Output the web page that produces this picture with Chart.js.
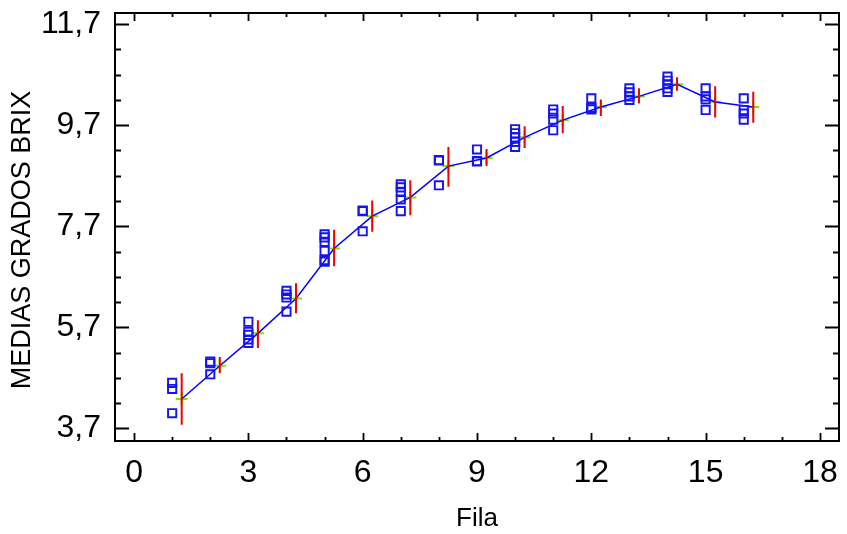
<!DOCTYPE html>
<html>
<head>
<meta charset="utf-8">
<script src="https://cdn.jsdelivr.net/npm/chart.js@4/dist/chart.umd.min.js"></script>
<style>
html,body{margin:0;padding:0;background:#fff;}
#wrap{width:847px;height:534px;}
</style>
</head>
<body>
<div id="wrap"><canvas id="c" width="847" height="534"></canvas></div>
<script>
// ---- data ----
const filas = [1, 2, 3, 4, 5, 6, 7, 8, 9, 10, 11, 12, 13, 14, 15, 16];
const observaciones = [
  [4.60, 4.48, 4.00],
  [5.02, 4.99, 4.77],
  [5.81, 5.61, 5.55, 5.46, 5.39],
  [6.42, 6.35, 6.29, 6.01],
  [7.54, 7.48, 7.39, 7.21, 7.03, 7.00],
  [8.01, 8.00, 7.60],
  [8.53, 8.47, 8.38, 8.23, 8.00],
  [9.01, 9.00, 8.51],
  [9.22, 8.99, 8.98],
  [9.62, 9.54, 9.46, 9.37, 9.27],
  [10.01, 9.93, 9.81, 9.60],
  [10.23, 10.05, 10.04, 10.01],
  [10.43, 10.35, 10.27, 10.20],
  [10.66, 10.58, 10.51, 10.43, 10.36],
  [10.43, 10.27, 10.21, 10.00],
  [10.23, 10.00, 9.93, 9.81]
];
const medias = [4.28, 4.94, 5.58, 6.27, 7.26, 7.90, 8.27, 8.89, 9.05, 9.46, 9.80, 10.06, 10.27, 10.51, 10.16, 10.06];
const limiteInferior = [3.77, 4.79, 5.29, 5.98, 6.91, 7.59, 7.92, 8.48, 8.89, 9.25, 9.54, 9.88, 10.13, 10.38, 9.85, 9.75];
const limiteSuperior = [4.79, 5.11, 5.84, 6.57, 7.63, 8.21, 8.61, 9.27, 9.23, 9.68, 10.08, 10.21, 10.43, 10.65, 10.47, 10.36];
const desplazamientoMedia = 0.25;
const xTicks = [0, 3, 6, 9, 12, 15, 18];
const xMinorTicks = [1, 2, 4, 5, 7, 8, 10, 11, 13, 14, 16, 17];
const yTicks = [3.7, 5.7, 7.7, 9.7, 11.7];
const yMinorTicks = [4.2, 4.7, 5.2, 6.2, 6.7, 7.2, 8.2, 8.7, 9.2, 10.2, 10.7, 11.2];
const tituloX = 'Fila';
const tituloY = 'MEDIAS GRADOS BRIX';

// ---- build datasets ----
const puntos = [];
filas.forEach((f, i) => observaciones[i].forEach(v => puntos.push({x: f, y: v})));
const mediaPts = filas.map((f, i) => ({x: f + desplazamientoMedia, y: medias[i]}));
const barras = [];
filas.forEach((f, i) => {
  barras.push({x: f + desplazamientoMedia, y: limiteInferior[i]});
  barras.push({x: f + desplazamientoMedia, y: limiteSuperior[i]});
  barras.push({x: f + desplazamientoMedia, y: null});
});

const FONT = "'Liberation Sans', Arial, sans-serif";

const framePlugin = {
  id: 'frame',
  afterDraw(chart) {
    const ctx = chart.ctx;
    const a = chart.chartArea;
    const xs = chart.scales.x, ys = chart.scales.y;
    ctx.save();
    ctx.strokeStyle = '#000';
    ctx.lineWidth = 2;
    ctx.strokeRect(a.left, a.top, a.right - a.left, a.bottom - a.top);
    ctx.beginPath();
    const xt = (v, len) => {
      const p = Math.round(xs.getPixelForValue(v)) + 0.5;
      ctx.moveTo(p, a.bottom); ctx.lineTo(p, a.bottom - len);
      ctx.moveTo(p, a.top); ctx.lineTo(p, a.top + len);
    };
    const yt = (v, len) => {
      const p = Math.round(ys.getPixelForValue(v)) + 0.5;
      ctx.moveTo(a.left, p); ctx.lineTo(a.left + len, p);
      ctx.moveTo(a.right, p); ctx.lineTo(a.right - len, p);
    };
    xTicks.forEach(v => xt(v, 8));
    xMinorTicks.forEach(v => xt(v, 4));
    yTicks.forEach(v => yt(v, 14));
    yMinorTicks.forEach(v => yt(v, 6));
    ctx.lineWidth = 1.8;
    ctx.stroke();
    // y axis title
    ctx.fillStyle = '#000';
    ctx.font = '27px ' + FONT;
    ctx.textAlign = 'center';
    ctx.textBaseline = 'middle';
    ctx.translate(23, 240);
    ctx.rotate(-Math.PI / 2);
    ctx.fillText(tituloY, 0, 0);
    ctx.restore();
  }
};

new Chart(document.getElementById('c'), {
  type: 'scatter',
  data: {
    datasets: [
      {
        label: 'obs',
        data: puntos,
        pointStyle: 'rect',
        pointRadius: 5.8,
        pointBorderWidth: 1.9,
        borderColor: 'rgb(20,20,240)',
        backgroundColor: 'rgba(0,0,0,0)',
        showLine: false,
        order: 0
      },
      {
        label: 'int',
        data: barras,
        showLine: true,
        spanGaps: false,
        pointRadius: 0,
        borderColor: 'rgb(240,0,0)',
        borderWidth: 2,
        order: 1
      },
      {
        label: 'linea',
        data: mediaPts,
        showLine: true,
        pointRadius: 0,
        borderColor: 'rgb(0,0,255)',
        borderWidth: 1.5,
        order: 2
      },
      {
        label: 'media',
        data: mediaPts,
        showLine: false,
        pointStyle: 'cross',
        pointRadius: 6,
        pointBorderWidth: 2,
        borderColor: 'rgb(120,230,0)',
        backgroundColor: 'rgb(120,230,0)',
        order: 3
      }
    ]
  },
  options: {
    responsive: false,
    animation: false,
    devicePixelRatio: 1,
    layout: {padding: {top: 13, right: 4, bottom: 0, left: 0}},
    plugins: {legend: {display: false}, tooltip: {enabled: false}},
    scales: {
      x: {
        type: 'linear',
        min: -0.5,
        max: 18.5,
        grid: {display: false, drawTicks: false},
        border: {display: false},
        afterBuildTicks: s => { s.ticks = xTicks.map(v => ({value: v})); },
        afterFit: s => { s.height = 93; s.paddingLeft = 0; s.paddingRight = 0; },
        ticks: {
          autoSkip: false,
          maxRotation: 0,
          padding: 13,
          color: '#000',
          font: {family: FONT, size: 32},
          callback: v => String(v)
        },
        title: {
          display: true,
          text: tituloX,
          color: '#000',
          font: {family: FONT, size: 26},
          padding: {top: -2, bottom: 0}
        }
      },
      y: {
        type: 'linear',
        min: 3.45,
        max: 11.92,
        grid: {display: false, drawTicks: false},
        border: {display: false},
        afterBuildTicks: s => { s.ticks = yTicks.map(v => ({value: v})); },
        afterFit: s => { s.width = 115; s.paddingTop = 0; s.paddingBottom = 0; },
        ticks: {
          autoSkip: false,
          padding: 14,
          color: '#000',
          font: {family: FONT, size: 32},
          callback: v => Number(v).toFixed(1).replace('.', ',')
        }
      }
    }
  },
  plugins: [framePlugin]
});
</script>
</body>
</html>
